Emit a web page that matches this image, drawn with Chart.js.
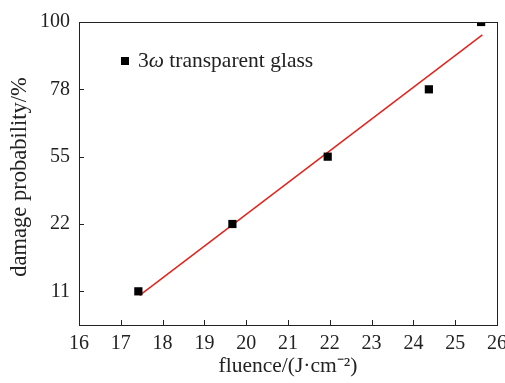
<!DOCTYPE html>
<html>
<head>
<meta charset="utf-8">
<script src="https://cdn.jsdelivr.net/npm/chart.js@4"></script>
<style>
  html, body { margin: 0; padding: 0; background: #fff; }
  #wrap { width: 505px; height: 383px; }
</style>
</head>
<body>
<div id="wrap"><canvas id="chart" width="505" height="383"></canvas></div>
<script>
// probit-style axis: evenly spaced tick labels
const probTicks = [11, 22, 55, 78, 100];

// measured points
const fluence = [17.42, 19.67, 21.95, 24.37, 25.62];
const probability = [11, 22, 55, 78, 100];

// fitted line endpoints (x in J/cm2, y in axis position units)
const fitFluence = [17.45, 25.65];
const fitPosition = [-0.06, 3.81];

const textColor = '#222';
const serif = '"Liberation Serif", "Times New Roman", serif';

const pointData = fluence.map((x, i) => ({ x: x, y: probTicks.indexOf(probability[i]) }));
const fitData = fitFluence.map((x, i) => ({ x: x, y: fitPosition[i] }));

// frame, inward ticks, titles and legend
const decorations = {
    id: 'decorations',
    afterDraw(chart) {
        const ctx = chart.ctx;
        const a = chart.chartArea;
        const xs = chart.scales.x;
        const ys = chart.scales.y;
        ctx.save();
        ctx.strokeStyle = '#222';
        ctx.lineWidth = 1;
        ctx.strokeRect(a.left + 0.5, a.top + 0.5, a.right - a.left, a.bottom - a.top);

        ctx.beginPath();
        xs.ticks.forEach(t => {
            const px = Math.round(xs.getPixelForValue(t.value)) + 0.5;
            ctx.moveTo(px, a.bottom);
            ctx.lineTo(px, a.bottom - 5);
        });
        ys.ticks.forEach(t => {
            const py = Math.round(ys.getPixelForValue(t.value)) + 0.5;
            ctx.moveTo(a.left, py);
            ctx.lineTo(a.left + 5, py);
        });
        ctx.stroke();

        ctx.fillStyle = textColor;
        ctx.font = '21.5px ' + serif;
        ctx.textAlign = 'center';
        ctx.textBaseline = 'alphabetic';
        ctx.fillText('fluence/(J\u00B7cm\u207B\u00B2)', (a.left + a.right) / 2, 372);

        ctx.save();
        ctx.font = '22.5px ' + serif;
        ctx.translate(26, 177);
        ctx.rotate(-Math.PI / 2);
        ctx.fillText('damage probability/%', 0, 0);
        ctx.restore();

        // legend
        ctx.fillStyle = '#000';
        ctx.fillRect(121, 57, 8, 8);
        ctx.fillStyle = textColor;
        ctx.textAlign = 'left';
        let x = 138;
        const y = 67;
        const parts = [['3', ''], ['\u03C9', 'italic '], [' transparent glass', '']];
        parts.forEach(p => {
            ctx.font = p[1] + '21.5px ' + serif;
            ctx.fillText(p[0], x, y);
            x += ctx.measureText(p[0]).width;
        });
        ctx.restore();
    }
};

new Chart(document.getElementById('chart'), {
    type: 'scatter',
    data: {
        datasets: [
            {
                label: '3\u03C9 transparent glass',
                data: pointData,
                pointStyle: 'rect',
                pointRadius: 5.8,
                pointHoverRadius: 5.8,
                backgroundColor: '#000',
                borderColor: '#000',
                borderWidth: 0
            },
            {
                label: 'fit',
                data: fitData,
                showLine: true,
                borderColor: '#e3231b',
                borderWidth: 1.5,
                pointRadius: 0
            }
        ]
    },
    options: {
        responsive: false,
        animation: false,
        layout: { padding: { top: 22, right: 8, left: 0, bottom: 0 } },
        plugins: {
            legend: { display: false },
            tooltip: { enabled: false }
        },
        scales: {
            x: {
                type: 'linear',
                min: 16,
                max: 26,
                ticks: {
                    stepSize: 1,
                    padding: 7,
                    color: textColor,
                    font: { family: serif, size: 20 }
                },
                grid: { display: false, drawTicks: false },
                border: { display: false },
                afterFit(scale) {
                    scale.height = 58;
                    scale.paddingLeft = 0;
                    scale.paddingRight = 0;
                }
            },
            y: {
                type: 'linear',
                min: -0.5,
                max: 4,
                afterBuildTicks(scale) {
                    scale.ticks = probTicks.map((_, i) => ({ value: i }));
                },
                ticks: {
                    padding: 9,
                    color: textColor,
                    font: { family: serif, size: 20 },
                    callback: v => probTicks[v]
                },
                grid: { display: false, drawTicks: false },
                border: { display: false },
                afterFit(scale) {
                    scale.width = 79;
                    scale.paddingTop = 0;
                    scale.paddingBottom = 0;
                }
            }
        }
    },
    plugins: [decorations]
});
</script>
</body>
</html>
